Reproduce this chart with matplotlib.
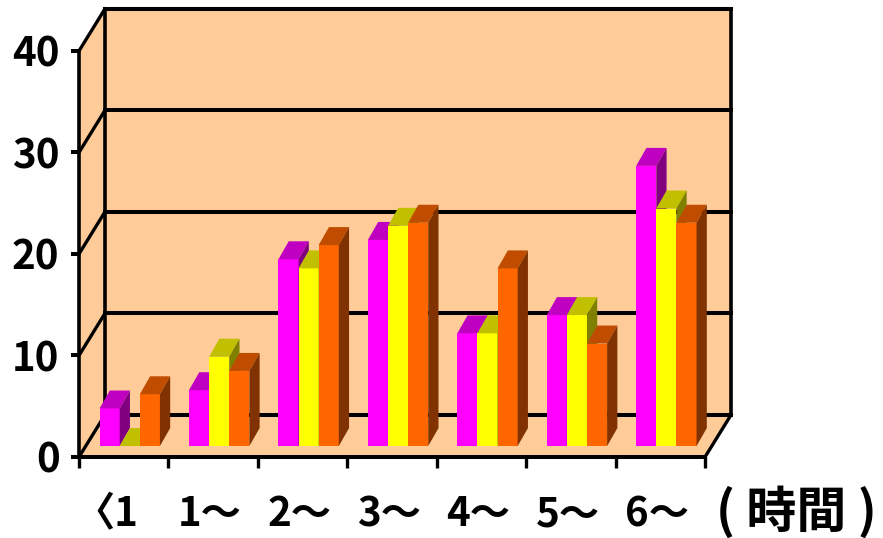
import matplotlib
matplotlib.use("Agg")
import matplotlib.pyplot as plt
from matplotlib.patches import Polygon
from matplotlib.transforms import ScaledTranslation

plt.rcParams["font.family"] = ["Noto Sans CJK JP", "DejaVu Sans"]
plt.rcParams["font.weight"] = "bold"

categories = ["〈1", "1～", "2～", "3～", "4～", "5～", "6～"]
yticks = [0, 10, 20, 30, 40]
unit_label = "( 時間 )"

series_a = [3.7, 5.5, 18.4, 20.3, 11.1, 12.9, 27.6]
series_b = [0, 8.8, 17.5, 21.7, 11.1, 12.9, 23.4]
series_c = [5.1, 7.4, 19.8, 22.0, 17.5, 10.1, 22.0]

# front, top, side shades
colors_a = ["#FF00FF", "#C000C0", "#800080"]
colors_b = ["#FFFF00", "#C0C000", "#808000"]
colors_c = ["#FF6600", "#C04C00", "#803300"]
wall_color = "#FFCC99"

# depth of the box and of the bars, in data units
wall_dx, wall_dy = 0.29, 4.14
bar_dx, bar_dy = 0.115, 1.77
base_y = 1.08
bar_w = 0.225
group_start = 0.23

fig = plt.figure(figsize=(8.83, 5.38), dpi=100)
ax = fig.add_axes([0, 0, 1, 1])
ax.set_xlim(-0.883, 8.99)
ax.set_ylim(-7.98, 45.02)

# walls and floor
ax.add_patch(Polygon([(wall_dx, wall_dy), (7 + wall_dx, wall_dy), (7 + wall_dx, 40 + wall_dy), (wall_dx, 40 + wall_dy)],
                     fc=wall_color, ec="none", zorder=1))
ax.add_patch(Polygon([(0, 0), (wall_dx, wall_dy), (wall_dx, 40 + wall_dy), (0, 40)], fc=wall_color, ec="none", zorder=1))
ax.add_patch(Polygon([(0, 0), (7, 0), (7 + wall_dx, wall_dy), (wall_dx, wall_dy)], fc=wall_color, ec="none", zorder=1))

# grid on the back and side walls
for v in yticks:
    ax.plot([wall_dx, 7 + wall_dx], [v + wall_dy, v + wall_dy], color="k", lw=2.9, zorder=2, solid_capstyle="projecting")
    ax.plot([0, wall_dx], [v, v + wall_dy], color="k", lw=2.4, zorder=2)
ax.plot([wall_dx, wall_dx], [wall_dy, 40 + wall_dy], color="k", lw=2.6, zorder=2)
ax.plot([7 + wall_dx, 7 + wall_dx], [wall_dy, 40 + wall_dy], color="k", lw=2.6, zorder=2)
ax.plot([7, 7 + wall_dx], [0, wall_dy], color="k", lw=2.4, zorder=2)


def draw_bars(values, shades, slot):
    lefts = [i + group_start + slot * bar_w for i in range(len(values))]
    ax.bar(lefts, values, width=bar_w, bottom=base_y, align="edge", color=shades[0], linewidth=0, zorder=3 + slot)
    for x0, v in zip(lefts, values):
        x1 = x0 + bar_w
        top = base_y + v
        ax.add_patch(Polygon([(x0, top), (x1, top), (x1 + bar_dx, top + bar_dy), (x0 + bar_dx, top + bar_dy)],
                             fc=shades[1], ec="none", zorder=3 + slot))
        ax.add_patch(Polygon([(x1, base_y), (x1, top), (x1 + bar_dx, top + bar_dy), (x1 + bar_dx, base_y + bar_dy)],
                             fc=shades[2], ec="none", zorder=3 + slot))


draw_bars(series_a, colors_a, 0)
draw_bars(series_b, colors_b, 1)
draw_bars(series_c, colors_c, 2)

# axis lines sit on the front edge of the box
for side in ["top", "right"]:
    ax.spines[side].set_visible(False)
ax.spines["left"].set_position(("data", 0))
ax.spines["bottom"].set_position(("data", 0))
ax.spines["left"].set_bounds(0, 40)
ax.spines["bottom"].set_bounds(0, 7)
ax.spines["left"].set_linewidth(2.6)
ax.spines["bottom"].set_linewidth(2.9)
ax.spines["left"].set_zorder(8)
ax.spines["bottom"].set_zorder(8)

ax.set_yticks(yticks)
ax.set_yticklabels([str(v) for v in yticks], fontsize=29)
ax.tick_params(axis="y", length=6, width=2.9, pad=8)
ax.set_xticks(range(8))
ax.set_xticklabels([])
ax.tick_params(axis="x", which="major", length=8, width=2.4)
ax.set_xticks([i + 0.5 for i in range(7)], minor=True)
ax.set_xticklabels(categories, minor=True, fontsize=29)
ax.tick_params(axis="x", which="minor", length=0, pad=27)

# nudge the category labels left of the slot centres
for i, label in enumerate(ax.get_xticklabels(minor=True)):
    shift = -0.17 if i == 0 else -0.03
    label.set_transform(label.get_transform() + ScaledTranslation(shift, 0, fig.dpi_scale_trans))

ax.text(7.12, -2.85, unit_label, fontsize=36, ha="left", va="top")

fig.savefig("out.png", dpi=100)
